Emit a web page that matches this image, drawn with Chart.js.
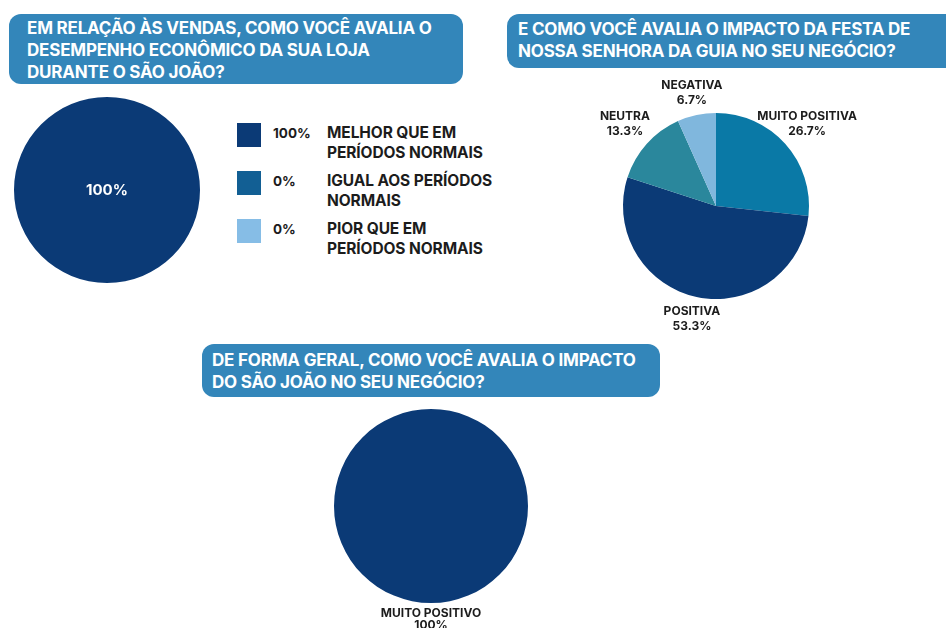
<!DOCTYPE html>
<html lang="pt-BR">
<head>
<meta charset="utf-8">
<title>Avaliação São João</title>
<script src="https://cdn.jsdelivr.net/npm/chart.js@4.4.1/dist/chart.umd.min.js"></script>
<style>
  body { margin: 0; background: #fff; }
  #page { position: relative; width: 946px; height: 628px; overflow: hidden; font-family: Inter, "Noto Sans", sans-serif; }
  .titulo {
    position: absolute; box-sizing: border-box; background: #3386ba; color: #fff;
    font-weight: 700; font-size: 17px; line-height: 22px; border-radius: 12px;
    letter-spacing: -0.2px;
  }
  .box { position: absolute; }
  #legenda { position: absolute; left: 237px; top: 123px; color: #1c1c1c; font-weight: 700; font-size: 15.5px; line-height: 20px; }
  .item { position: absolute; left: 0; width: 300px; height: 44px; }
  .item .cor { position: absolute; left: 0; top: 0; width: 24px; height: 24px; }
  .item .pct { position: absolute; left: 36px; top: 0; font-size: 13.5px; }
  .item .txt { position: absolute; left: 90px; top: 0; width: 174px; letter-spacing: -0.1px; }
</style>
</head>
<body>
<div id="page">
  <div class="titulo" style="left:9px;top:14px;width:454px;height:70px;padding:3px 0 0 18px;">EM RELAÇÃO ÀS VENDAS, COMO VOCÊ AVALIA O<br>DESEMPENHO ECONÔMICO DA SUA LOJA<br>DURANTE O SÃO JOÃO?</div>
  <div class="titulo" style="left:507px;top:14px;width:460px;height:54px;padding:4px 0 0 11px;">E COMO VOCÊ AVALIA O IMPACTO DA FESTA DE<br>NOSSA SENHORA DA GUIA NO SEU NEGÓCIO?</div>
  <div class="titulo" style="left:202px;top:344px;width:458px;height:53px;padding:5px 0 0 10px;">DE FORMA GERAL, COMO VOCÊ AVALIA O IMPACTO<br>DO SÃO JOÃO NO SEU NEGÓCIO?</div>

  <div class="box" style="left:14px;top:97px;"><canvas id="vendasChart" width="186" height="186"></canvas></div>
  <div id="legenda"></div>
  <div class="box" style="left:560px;top:70px;"><canvas id="festaChart" width="312" height="272"></canvas></div>
  <div class="box" style="left:300px;top:400px;"><canvas id="geralChart" width="262" height="240"></canvas></div>
</div>
<script>
// Pergunta 1 - desempenho das vendas
const vendasCategorias = ['MELHOR QUE EM PERÍODOS NORMAIS', 'IGUAL AOS PERÍODOS NORMAIS', 'PIOR QUE EM PERÍODOS NORMAIS'];
const vendasValores = [100, 0, 0];
const vendasCores = ['#0b3a76', '#125f94', '#86bde6'];

// Pergunta 2 - festa de Nossa Senhora da Guia
const festaCategorias = ['MUITO POSITIVA', 'POSITIVA', 'NEUTRA', 'NEGATIVA'];
const festaValores = [26.7, 53.3, 13.3, 6.7];
const festaCores = ['#0a79a6', '#0b3a76', '#2a879c', '#80b7dd'];

// Pergunta 3 - impacto geral do São João
const geralCategorias = ['MUITO POSITIVO'];
const geralValores = [100];
const geralCores = ['#0b3a76'];

function pct(v) {
    return (Number.isInteger(v) ? v : v.toFixed(1)) + '%';
}

// labels desenhados sobre/fora das fatias
const sliceLabels = {
    id: 'sliceLabels',
    afterDatasetsDraw(chart, args, opts) {
        const ctx = chart.ctx;
        const meta = chart.getDatasetMeta(0);
        const values = chart.data.datasets[0].data;
        ctx.save();
        ctx.font = opts.font;
        ctx.fillStyle = opts.color;
        ctx.textAlign = 'center';
        ctx.textBaseline = 'middle';
        meta.data.forEach((arc, i) => {
            const v = values[i];
            if (!v) return;
            const lines = opts.format(chart.data.labels[i], v);
            const lh = opts.lineHeight;
            let x = arc.x, y = arc.y;
            if (opts.position === 'outside') {
                const mid = (arc.startAngle + arc.endAngle) / 2;
                const ux = Math.cos(mid), uy = Math.sin(mid);
                const hw = Math.max(...lines.map(t => ctx.measureText(t).width)) / 2;
                const hh = lines.length * lh / 2;
                const d = Math.min(
                    Math.abs(ux) > 1e-6 ? hw / Math.abs(ux) : Infinity,
                    Math.abs(uy) > 1e-6 ? hh / Math.abs(uy) : Infinity
                );
                const dist = arc.outerRadius + opts.offset + d;
                x += ux * dist;
                y += uy * dist;
            }
            lines.forEach((t, k) => ctx.fillText(t, x, y + (k - (lines.length - 1) / 2) * lh));
        });
        ctx.restore();
    }
};

function pieChart(id, labels, values, colors, radius, padding, labelOpts) {
    const ctx = document.getElementById(id).getContext('2d');
    return new Chart(ctx, {
        type: 'pie',
        data: {
            labels: labels,
            datasets: [{
                data: values,
                backgroundColor: colors,
                borderWidth: 0,
                radius: radius
            }]
        },
        options: {
            responsive: false,
            animation: false,
            layout: { padding: padding },
            plugins: {
                legend: { display: false },
                tooltip: { enabled: false },
                sliceLabels: labelOpts
            }
        },
        plugins: [sliceLabels]
    });
}

pieChart('vendasChart', vendasCategorias, vendasValores, vendasCores, 93, 0, {
    position: 'center', font: '700 15px Inter', color: '#ffffff', lineHeight: 18,
    format: (label, v) => [pct(v)]
});

pieChart('festaChart', festaCategorias, festaValores, festaCores, 93, { left: 63, right: 63, top: 43, bottom: 43 }, {
    position: 'outside', offset: 7, font: '700 12px Inter', color: '#1c1c1c', lineHeight: 15,
    format: (label, v) => [label, pct(v)]
});

pieChart('geralChart', geralCategorias, geralValores, geralCores, 97, { left: 34, right: 34, top: 9, bottom: 37 }, {
    position: 'outside', offset: 4, font: '700 12px Inter', color: '#1c1c1c', lineHeight: 12,
    format: (label, v) => [label, pct(v)]
});

// legenda da primeira pergunta
const legenda = document.getElementById('legenda');
vendasCategorias.forEach((cat, i) => {
    const item = document.createElement('div');
    item.className = 'item';
    item.style.top = (i * 48) + 'px';
    item.innerHTML = '<div class="cor" style="background:' + vendasCores[i] + '"></div>' +
        '<div class="pct">' + pct(vendasValores[i]) + '</div>' +
        '<div class="txt">' + cat + '</div>';
    legenda.appendChild(item);
});
</script>
</body>
</html>
